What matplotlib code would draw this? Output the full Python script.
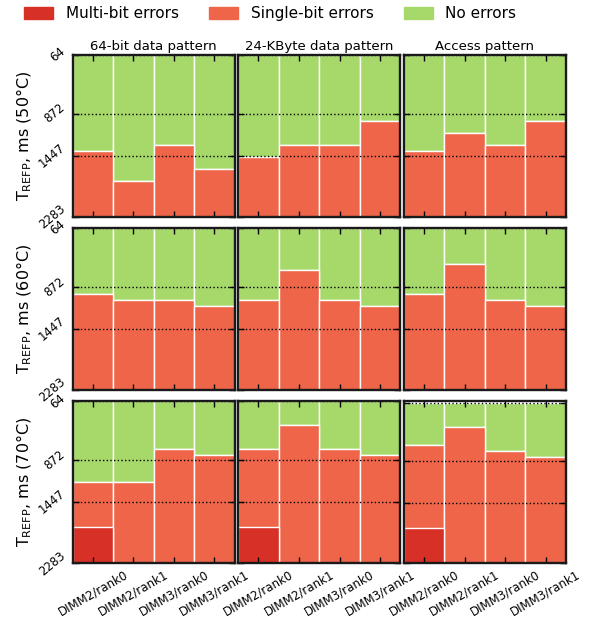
import numpy as np
import matplotlib
matplotlib.use("Agg")
import matplotlib.pyplot as plt
from matplotlib.patches import Patch

# Refresh-interval axis (ms), top to bottom
yticks = [64, 872, 1447, 2283]
modules = ["DIMM2/rank0", "DIMM2/rank1", "DIMM3/rank0", "DIMM3/rank1"]
patterns = ["64-bit data pattern", "24-KByte data pattern", "Access pattern"]
temps = [50, 60, 70]

# Shortest T_REFP (ms) at which single-bit errors show up, per temperature
# row and pattern column, one value per module
single_50 = [[1382, 1792, 1300, 1628],
             [1470, 1300, 1300, 969],
             [1382, 1137, 1300, 969]]
single_60 = [[971, 1054, 1054, 1136],
             [1054, 641, 1054, 1136],
             [971, 559, 1054, 1136]]
single_70 = [[1176, 1176, 725, 807],
             [725, 392, 725, 807],
             [648, 400, 727, 811]]

# Shortest T_REFP (ms) with multi-bit errors (None = never seen)
multi_50 = [[None] * 4] * 3
multi_60 = [[None] * 4] * 3
multi_70 = [[1787, None, None, None],
            [1787, None, None, None],
            [1792, None, None, None]]

single = [single_50, single_60, single_70]
multi = [multi_50, multi_60, multi_70]

c_multi = "#d73027"
c_single = "#ef654a"
c_none = "#a6d96a"

fig, axes = plt.subplots(3, 3, figsize=(6.13, 6.21), dpi=100)
fig.subplots_adjust(left=0.1183, right=0.9233, top=0.9122, bottom=0.0929,
                    wspace=0.023, hspace=0.0675)

x = np.arange(len(modules))
ymin, ymax = yticks[0], yticks[-1]

for r in range(3):
    for c in range(3):
        ax = axes[r, c]
        s = np.array(single[r][c], dtype=float)
        ax.bar(x, s - ymin, bottom=ymin, width=1.0, color=c_none,
               edgecolor="white", linewidth=1.0, zorder=1)
        ax.bar(x, ymax - s, bottom=s, width=1.0, color=c_single,
               edgecolor="white", linewidth=1.0, zorder=1)
        for i, m in enumerate(multi[r][c]):
            if m is not None:
                ax.bar(x[i], ymax - m, bottom=m, width=1.0, color=c_multi,
                       edgecolor="white", linewidth=1.0, zorder=1)

        ax.set_xlim(-0.5, len(modules) - 0.5)
        if r == 2 and c == 2:
            ax.set_ylim(ymax, 40)
        else:
            ax.set_ylim(ymax, ymin)
        ax.set_yticks(yticks)
        ax.set_xticks(x)
        ax.grid(axis="y", linestyle=":", color="black", linewidth=1.0, zorder=2)
        ax.set_axisbelow(False)
        ax.tick_params(direction="in", top=True, right=True, length=4,
                       width=1, color="black")
        for sp in ax.spines.values():
            sp.set_linewidth(1.7)
            sp.set_color("#1a1a1a")
            sp.set_zorder(3)

        if c == 0:
            ax.set_yticklabels([str(t) for t in yticks], rotation=40,
                               fontsize=8.5, va="center", ha="right")
            ax.set_ylabel(r"T$_{\mathregular{REFP}}$, ms (%d°C)" % temps[r],
                          fontsize=11.5, labelpad=2)
        else:
            ax.set_yticklabels([])
        if r == 2:
            ax.set_xticklabels(modules, rotation=30, fontsize=8.5, ha="center")
        else:
            ax.set_xticklabels([])
        if r == 0:
            ax.set_title(patterns[c], fontsize=9.5, pad=3)

handles = [Patch(color=c_multi, label="Multi-bit errors"),
           Patch(color=c_single, label="Single-bit errors"),
           Patch(color=c_none, label="No errors")]
fig.legend(handles=handles, loc="upper center", ncol=3, frameon=False,
           fontsize=11, bbox_to_anchor=(0.441, 1.012), handlelength=1.9,
           handleheight=0.8, handletextpad=0.8, columnspacing=2.0)

fig.savefig("out.png", dpi=100)
